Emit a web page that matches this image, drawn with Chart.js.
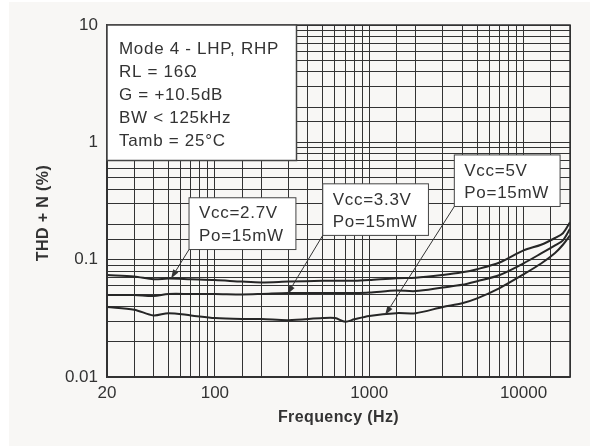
<!DOCTYPE html>
<html>
<head>
<meta charset="utf-8">
<script src="https://cdn.jsdelivr.net/npm/chart.js@4.4.0/dist/chart.umd.min.js"></script>
<style>
  html, body { margin: 0; padding: 0; background: #fff; }
  #wrap { width: 590px; height: 446px; }
</style>
</head>
<body>
<div id="wrap"><canvas id="thd-chart" width="590" height="446"></canvas></div>
<script>
// Frequency points (Hz)
const freqs = [20, 30, 40, 50, 70, 100, 150, 200, 300, 500, 600, 700, 800, 1000, 1500, 2000, 3000, 4000, 5000, 7000, 10000, 13000, 16000, 18000, 20000];

// THD+N (%) for each supply, Po = 15mW
const thd27 = [0.074, 0.072, 0.068, 0.069, 0.068, 0.067, 0.065, 0.064, 0.065, 0.066, 0.066, 0.066, 0.066, 0.067, 0.0695, 0.070, 0.074, 0.078, 0.083, 0.0945, 0.120, 0.134, 0.153, 0.168, 0.208];
const thd33 = [0.050, 0.050, 0.049, 0.051, 0.051, 0.051, 0.0505, 0.051, 0.052, 0.052, 0.052, 0.052, 0.052, 0.0525, 0.0545, 0.054, 0.058, 0.061, 0.0655, 0.074, 0.093, 0.113, 0.1325, 0.146, 0.183];
const thd50 = [0.0395, 0.0375, 0.0335, 0.035, 0.0335, 0.0318, 0.0312, 0.0312, 0.0305, 0.0318, 0.0318, 0.0296, 0.031, 0.0331, 0.035, 0.035, 0.0395, 0.0425, 0.0468, 0.0573, 0.075, 0.0927, 0.114, 0.134, 0.161];

// tick labels shown on the axes
const xTickLabels = [20, 100, 1000, 10000];
const yTickLabels = [0.01, 0.1, 1, 10];

const FONT = "'Liberation Sans', Arial, sans-serif";
const INK = '#333';

// text boxes, corners and arrow tips in data units (Hz, %)
const notes = [
  { lines: ['Mode 4 - LHP, RHP', 'RL = 16\u03A9', 'G = +10.5dB', 'BW < 125kHz', 'Tamb = 25\u00B0C'],
    x0: 20, x1: 338, y0: 10, y1: 0.70, pad: 12, first: 24, gap: 23, border: 1.5 },
  { lines: ['Vcc=2.7V', 'Po=15mW'], x0: 68, x1: 335, y0: 0.337, y1: 0.122, pad: 10, first: 16, gap: 22.7, border: 1, tip: [52, 0.069] },
  { lines: ['Vcc=3.3V', 'Po=15mW'], x0: 500, x1: 2420, y0: 0.443, y1: 0.161, pad: 10, first: 16.5, gap: 21.7, border: 1, tip: [295, 0.0508] },
  { lines: ['Vcc=5V', 'Po=15mW'], x0: 3560, x1: 17250, y0: 0.781, y1: 0.284, pad: 10, first: 16.5, gap: 22, border: 1, tip: [1267, 0.0337] }
];

const near = (a, b) => Math.abs(a - b) / b < 1e-6;

function series(values) {
  return freqs.map((f, i) => ({ x: f, y: values[i] }));
}

function line(label, values) {
  return {
    label: label,
    data: series(values),
    borderColor: '#262626',
    borderWidth: 2,
    pointRadius: 0,
    tension: 0.3,
    fill: false
  };
}

const decorPlugin = {
  id: 'decor',
  beforeDraw(chart) {
    const ctx = chart.ctx;
    ctx.save();
    ctx.fillStyle = '#f8f7f5';
    ctx.fillRect(9, 2, chart.width - 9, chart.height - 2);
    ctx.restore();
  },
  afterDatasetsDraw(chart) {
    const ctx = chart.ctx;
    const xs = chart.scales.x, ys = chart.scales.y;
    const a = chart.chartArea;
    ctx.save();
    // plot frame
    ctx.strokeStyle = INK;
    ctx.lineWidth = 1.5;
    ctx.strokeRect(a.left, a.top, a.right - a.left, a.bottom - a.top);

    notes.forEach(n => {
      const l = xs.getPixelForValue(n.x0), r = xs.getPixelForValue(n.x1);
      const t = ys.getPixelForValue(n.y0), b = ys.getPixelForValue(n.y1);
      if (n.tip) {
        const tx = xs.getPixelForValue(n.tip[0]), ty = ys.getPixelForValue(n.tip[1]);
        const ang = Math.atan2(ty - b, tx - l);
        ctx.strokeStyle = INK;
        ctx.lineWidth = 1;
        ctx.beginPath();
        ctx.moveTo(l, b);
        ctx.lineTo(tx - 6 * Math.cos(ang), ty - 6 * Math.sin(ang));
        ctx.stroke();
        ctx.fillStyle = INK;
        ctx.beginPath();
        ctx.moveTo(tx, ty);
        ctx.lineTo(tx - 9 * Math.cos(ang) + 3 * Math.sin(ang), ty - 9 * Math.sin(ang) - 3 * Math.cos(ang));
        ctx.lineTo(tx - 9 * Math.cos(ang) - 3 * Math.sin(ang), ty - 9 * Math.sin(ang) + 3 * Math.cos(ang));
        ctx.closePath();
        ctx.fill();
      }
      ctx.fillStyle = '#fff';
      ctx.fillRect(l, t, r - l, b - t);
      ctx.strokeStyle = '#444';
      ctx.lineWidth = n.border;
      ctx.strokeRect(l, t, r - l, b - t);
      ctx.fillStyle = INK;
      ctx.font = '17px ' + FONT;
      ctx.letterSpacing = '0.7px';
      ctx.textBaseline = 'middle';
      ctx.textAlign = 'left';
      n.lines.forEach((txt, i) => ctx.fillText(txt, l + n.pad, t + n.first + i * n.gap));
    });
    ctx.restore();
  },
  afterDraw(chart) {
    const ctx = chart.ctx;
    const a = chart.chartArea;
    ctx.save();
    ctx.fillStyle = INK;
    ctx.font = 'bold 16px ' + FONT;
    ctx.letterSpacing = '0.4px';
    ctx.textAlign = 'center';
    ctx.textBaseline = 'middle';
    ctx.fillText('Frequency (Hz)', (a.left + a.right) / 2, 418);
    ctx.translate(44, 213);
    ctx.rotate(-Math.PI / 2);
    ctx.fillText('THD + N (%)', 0, 0);
    ctx.restore();
  }
};

const ctx = document.getElementById('thd-chart').getContext('2d');

const thdChart = new Chart(ctx, {
  type: 'line',
  data: {
    datasets: [
      line('Vcc=2.7V', thd27),
      line('Vcc=3.3V', thd33),
      line('Vcc=5V', thd50)
    ]
  },
  options: {
    responsive: false,
    animation: false,
    layout: { padding: { top: 25, right: 20, left: 0, bottom: 0 } },
    plugins: {
      legend: { display: false },
      tooltip: { enabled: false }
    },
    scales: {
      x: {
        type: 'logarithmic',
        min: 20,
        max: 20000,
        afterFit: (s) => { s.height = 69; },
        grid: { color: '#333', lineWidth: 1, drawTicks: false },
        border: { color: INK, width: 1.5 },
        ticks: {
          autoSkip: false,
          maxRotation: 0,
          padding: 6,
          color: INK,
          font: { family: FONT, size: 17 },
          callback: (v) => { const t = xTickLabels.find(k => near(v, k)); return t === undefined ? '' : String(t); }
        }
      },
      y: {
        type: 'logarithmic',
        min: 0.01,
        max: 10,
        afterFit: (s) => { s.width = 107; },
        grid: { color: '#333', lineWidth: 1, drawTicks: false },
        border: { color: INK, width: 1.5 },
        ticks: {
          autoSkip: false,
          padding: 9,
          color: INK,
          font: { family: FONT, size: 17 },
          callback: (v) => { const t = yTickLabels.find(k => near(v, k)); return t === undefined ? '' : String(t); }
        }
      }
    }
  },
  plugins: [decorPlugin]
});
</script>
</body>
</html>
